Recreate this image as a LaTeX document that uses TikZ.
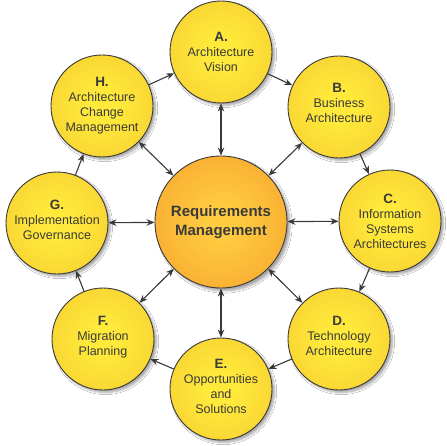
\documentclass[tikz,border=0pt]{standalone}
\usepackage{fontspec}
\setmainfont{Liberation Sans}
\usetikzlibrary{arrows.meta,shadows.blur}
\definecolor{yin}{HTML}{FFE93A}
\definecolor{yout}{HTML}{F2BE2C}
\definecolor{oin}{HTML}{FFCB40}
\definecolor{oout}{HTML}{F39124}
\definecolor{txt}{HTML}{3A3A3A}
\definecolor{edge}{HTML}{3A3A3A}
\pgfdeclareradialshading{ballY}{\pgfpointorigin}{color(0bp)=(yin); color(8bp)=(yin); color(50bp)=(yout)}
\pgfdeclareradialshading{ballO}{\pgfpointorigin}{color(0bp)=(oin); color(6bp)=(oin); color(50bp)=(oout)}
\newcommand\hd{\bfseries\fontsize{13.5}{15}\selectfont}
\tikzset{
  phase/.style={circle, draw=edge, line width=0.9pt, shade, shading=ballY,
    minimum size=102pt, inner sep=0pt, align=center, text=txt,
    font=\fontsize{12.5}{15}\selectfont,
    blur shadow={shadow xshift=2.5pt, shadow yshift=-2.5pt, shadow blur steps=6, shadow opacity=35}},
  core/.style={circle, draw=edge, line width=0.9pt, shade, shading=ballO,
    minimum size=132pt, inner sep=0pt, align=center, text=txt,
    font=\bfseries\fontsize{15}{19.5}\selectfont,
    blur shadow={shadow xshift=3pt, shadow yshift=-3pt, shadow blur steps=6, shadow opacity=35}},
  tip/.tip={Stealth[length=8pt,width=6.5pt]},
  cyc/.style={-tip, line width=1.1pt, draw=edge},
  spoke/.style={tip-tip, line width=1.1pt, draw=edge},
}
\begin{document}
\begin{tikzpicture}[x=1pt,y=-1pt]
\fill[white] (0,0) rectangle (446,446);
\useasboundingbox (0,0) rectangle (446,446);
\node[core]  (R) at (221,222) {Requirements\\Management};
\node[phase] (A) at (221,52)  {{\hd A.}\\Architecture\\Vision};
\node[phase, text depth=9pt] (B) at (339,107) {{\hd B.}\\Business\\Architecture};
\node[phase] (C) at (390,221) {{\hd C.}\\Information\\Systems\\Architectures};
\node[phase, text depth=6pt] (D) at (339,339) {{\hd D.}\\Technology\\Architecture};
\node[phase, text depth=5pt] (E) at (221,389) {{\hd E.}\\Opportunities\\and\\Solutions};
\node[phase, text depth=6pt] (F) at (103,339) {{\hd F.}\\Migration\\Planning};
\node[phase, text depth=6pt] (G) at (57,223)  {{\hd G.}\\Implementation\\Governance};
\node[phase] (H) at (102,106) {{\hd H.}\\Architecture\\Change\\Management};
\foreach \a/\b in {A/B,B/C,C/D,D/E,E/F,F/G,G/H,H/A}
  \draw[cyc] (\a) -- (\b);
\foreach \n in {A,B,C,D,E,F,G,H}
  \draw[spoke] (R) -- (\n);
\end{tikzpicture}
\end{document}
